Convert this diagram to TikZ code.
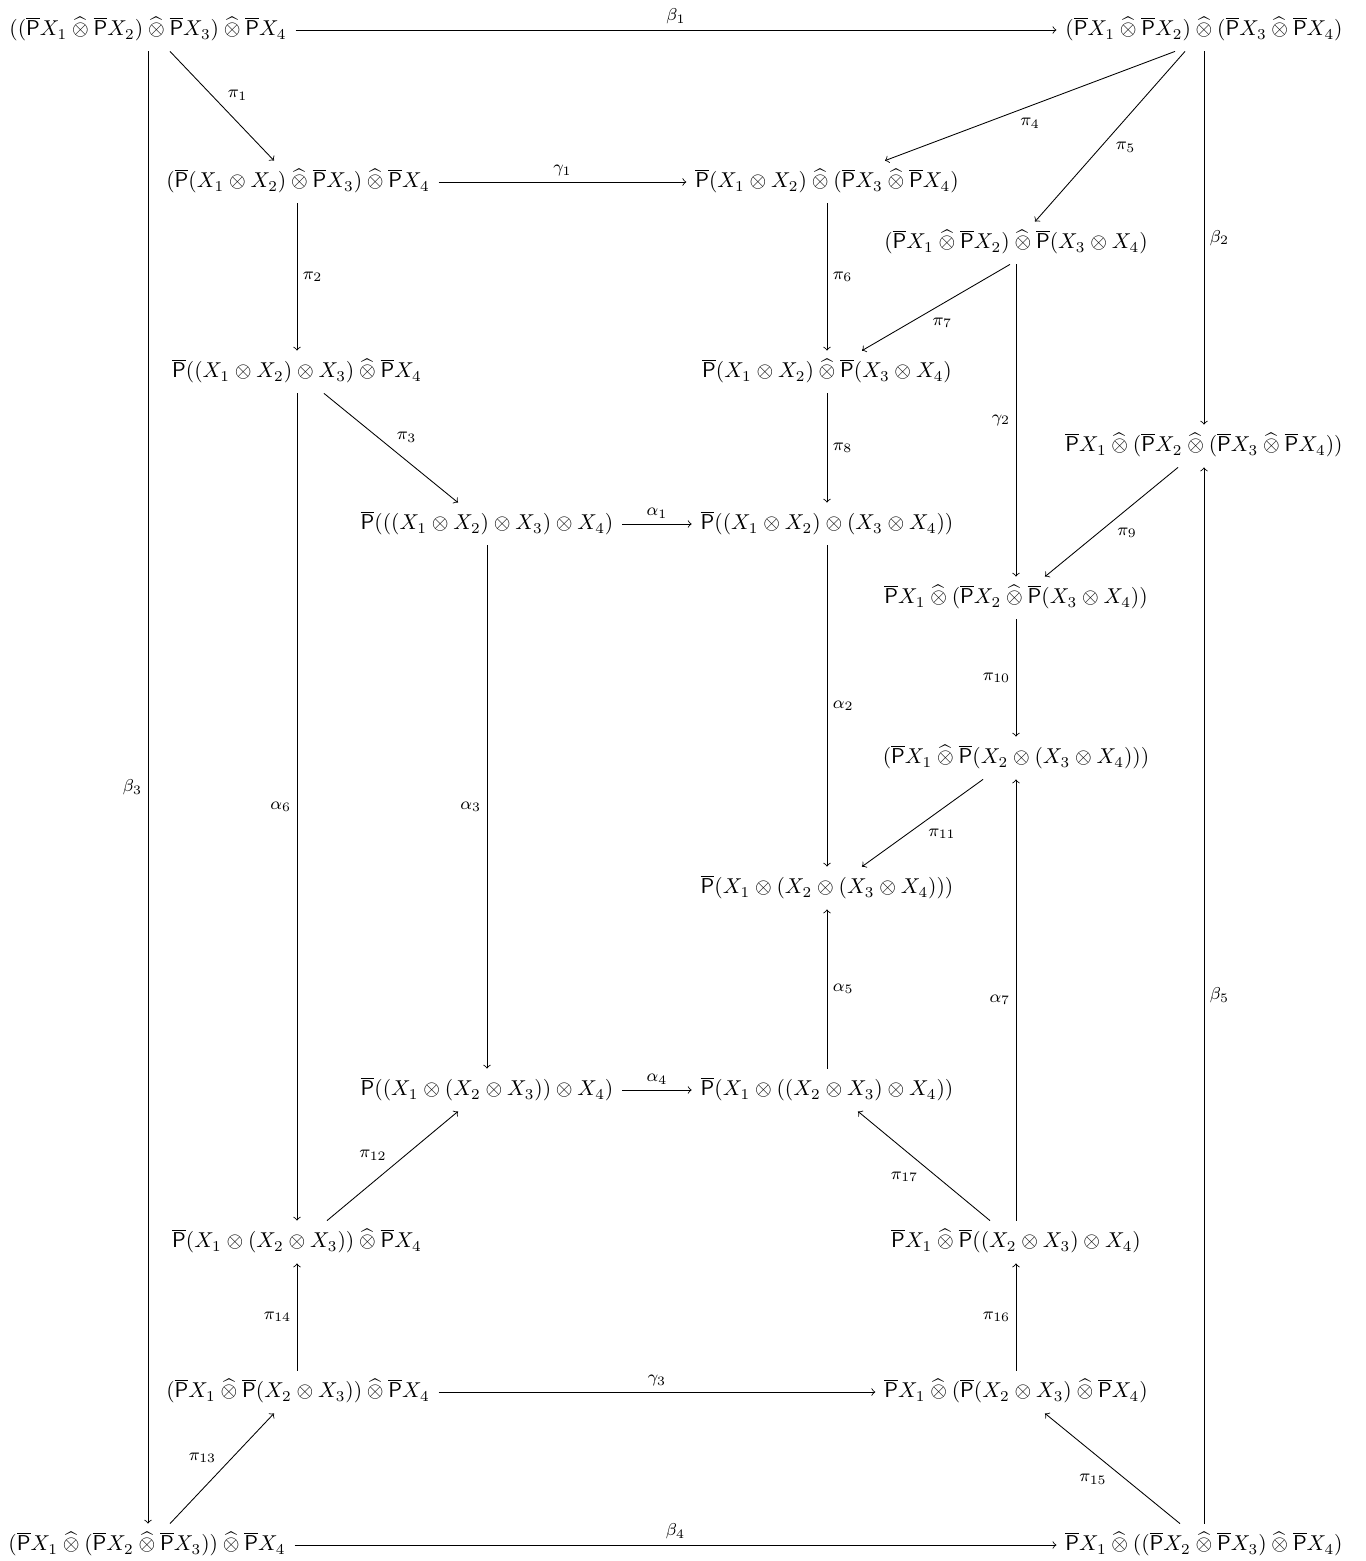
\documentclass[tikz,border=0pt]{standalone}
\usepackage{amsmath,amssymb}
\newcommand\Pbar{\overline{\mathsf{P}}}
\newcommand\hotimes{\mathbin{\widehat{\otimes}}}
\begin{document}
\begin{tikzpicture}[x=0.465pt,y=-0.465pt,
  ob/.style={inner sep=4pt,text height=8.5pt,text depth=3pt},
  ar/.style={->,>=to,line width=0.4pt},
  lb/.style={font=\footnotesize,inner sep=2.5pt}]
\useasboundingbox (0,0) rectangle (1366,1561);
\node[ob] (A) at (148,30) {$((\Pbar X_1\hotimes\Pbar X_2)\hotimes\Pbar X_3)\hotimes\Pbar X_4$};
\node[ob] (B) at (1204,30) {$(\Pbar X_1\hotimes\Pbar X_2)\hotimes(\Pbar X_3\hotimes\Pbar X_4)$};
\node[ob] (C) at (298,182) {$(\Pbar(X_1\otimes X_2)\hotimes\Pbar X_3)\hotimes\Pbar X_4$};
\node[ob] (D) at (827,182) {$\Pbar(X_1\otimes X_2)\hotimes(\Pbar X_3\hotimes\Pbar X_4)$};
\node[ob] (E) at (1016,243) {$(\Pbar X_1\hotimes\Pbar X_2)\hotimes\Pbar(X_3\otimes X_4)$};
\node[ob] (F) at (297,372) {$\Pbar((X_1\otimes X_2)\otimes X_3)\hotimes\Pbar X_4$};
\node[ob] (G) at (827,372) {$\Pbar(X_1\otimes X_2)\hotimes\Pbar(X_3\otimes X_4)$};
\node[ob] (H) at (1204,446) {$\Pbar X_1\hotimes(\Pbar X_2\hotimes(\Pbar X_3\hotimes\Pbar X_4))$};
\node[ob] (I) at (487,524) {$\Pbar(((X_1\otimes X_2)\otimes X_3)\otimes X_4)$};
\node[ob] (J) at (827,524) {$\Pbar((X_1\otimes X_2)\otimes(X_3\otimes X_4))$};
\node[ob] (K) at (1016,598) {$\Pbar X_1\hotimes(\Pbar X_2\hotimes\Pbar(X_3\otimes X_4))$};
\node[ob] (L) at (1016,758) {$(\Pbar X_1\hotimes\Pbar(X_2\otimes(X_3\otimes X_4)))$};
\node[ob] (M) at (827,888) {$\Pbar(X_1\otimes(X_2\otimes(X_3\otimes X_4)))$};
\node[ob] (N) at (487,1090) {$\Pbar((X_1\otimes(X_2\otimes X_3))\otimes X_4)$};
\node[ob] (O) at (827,1090) {$\Pbar(X_1\otimes((X_2\otimes X_3)\otimes X_4))$};
\node[ob] (Pn) at (297,1242) {$\Pbar(X_1\otimes(X_2\otimes X_3))\hotimes\Pbar X_4$};
\node[ob] (Q) at (1016,1242) {$\Pbar X_1\hotimes\Pbar((X_2\otimes X_3)\otimes X_4)$};
\node[ob] (R) at (298,1392) {$(\Pbar X_1\hotimes\Pbar(X_2\otimes X_3))\hotimes\Pbar X_4$};
\node[ob] (S) at (1016,1392) {$\Pbar X_1\hotimes(\Pbar(X_2\otimes X_3)\hotimes\Pbar X_4)$};
\node[ob] (T) at (147,1545) {$(\Pbar X_1\hotimes(\Pbar X_2\hotimes\Pbar X_3))\hotimes\Pbar X_4$};
\node[ob] (U) at (1204,1545) {$\Pbar X_1\hotimes((\Pbar X_2\hotimes\Pbar X_3)\hotimes\Pbar X_4)$};
% horizontal
\draw[ar] (A) -- node[lb,above]{$\beta_1$} (B);
\draw[ar] (C) -- node[lb,above]{$\gamma_1$} (D);
\draw[ar] (I) -- node[lb,above]{$\alpha_1$} (J);
\draw[ar] (N) -- node[lb,above]{$\alpha_4$} (O);
\draw[ar] (R) -- node[lb,above]{$\gamma_3$} (S);
\draw[ar] (T) -- node[lb,above]{$\beta_4$} (U);
% vertical
\draw[ar] (A.south) -- node[lb,left]{$\beta_3$} (A.south |- T.north);
\draw[ar] (B.south) -- node[lb,right]{$\beta_2$} (B.south |- H.north);
\draw[ar] (U.north) -- node[lb,right]{$\beta_5$} (U.north |- H.south);
\draw[ar] (F.north |- C.south) -- node[lb,right]{$\pi_2$} (F.north);
\draw[ar] (D) -- node[lb,right]{$\pi_6$} (G);
\draw[ar] (G) -- node[lb,right]{$\pi_8$} (J);
\draw[ar] (E) -- node[lb,left]{$\gamma_2$} (K);
\draw[ar] (F.south) -- node[lb,left]{$\alpha_6$} (F.south |- Pn.north);
\draw[ar] (I) -- node[lb,left]{$\alpha_3$} (N);
\draw[ar] (J) -- node[lb,right]{$\alpha_2$} (M);
\draw[ar] (K) -- node[lb,left]{$\pi_{10}$} (L);
\draw[ar] (O) -- node[lb,right]{$\alpha_5$} (M);
\draw[ar] (Q) -- node[lb,left]{$\alpha_7$} (L);
\draw[ar] (S) -- node[lb,left]{$\pi_{16}$} (Q);
\draw[ar] (Pn.south |- R.north) -- node[lb,left]{$\pi_{14}$} (Pn.south);
% diagonal
\draw[ar] ([shift={(22,0)}]A.south) -- node[lb,above right]{$\pi_1$} ([shift={(-24,0)}]C.north);
\draw[ar] ([shift={(-29,0)}]B.south) -- node[lb,below,yshift=-3pt]{$\pi_4$} ([shift={(58,0)}]D.north);
\draw[ar] ([shift={(-19,0)}]B.south) -- node[lb,below right]{$\pi_5$} ([shift={(19,0)}]E.north);
\draw[ar] ([shift={(-6,0)}]E.south) -- node[lb,below,yshift=-2pt,xshift=3pt]{$\pi_7$} ([shift={(35,0)}]G.north);
\draw[ar] ([shift={(27,0)}]F.south) -- node[lb,above right]{$\pi_3$} ([shift={(-29,0)}]I.north);
\draw[ar] ([shift={(-26,0)}]H.south) -- node[lb,below right]{$\pi_9$} ([shift={(29,0)}]K.north);
\draw[ar] ([shift={(-33,0)}]L.south) -- node[lb,below right]{$\pi_{11}$} ([shift={(35,0)}]M.north);
\draw[ar] ([shift={(-26,0)}]Q.north) -- node[lb,below left]{$\pi_{17}$} ([shift={(31,0)}]O.south);
\draw[ar] ([shift={(30,0)}]Pn.north) -- node[lb,above left]{$\pi_{12}$} ([shift={(-29,0)}]N.south);
\draw[ar] ([shift={(23,0)}]T.north) -- node[lb,above left]{$\pi_{13}$} ([shift={(-24,0)}]R.south);
\draw[ar] ([shift={(-24,0)}]U.north) -- node[lb,below left]{$\pi_{15}$} ([shift={(29,0)}]S.south);
\end{tikzpicture}
\end{document}
